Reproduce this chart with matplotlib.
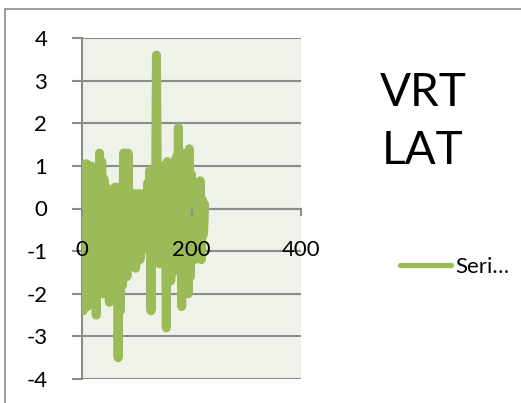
import numpy as np
import matplotlib
matplotlib.use("Agg")
import matplotlib.pyplot as plt
from matplotlib.patches import Rectangle

# VRT LAT series, sampled every 2 units along x
vrt_lat = [
    1.05, -2.4, 0.8, -1.9, 1.05, -2.3, 0.5, -1.2,
    1.0, -0.8, 0.2, -1.5, 0.6, -2.5, 0.3, -1.8,
    1.3, -0.5, 1.1, -2.0, 0.7, -1.0, 0.5, -1.6,
    0.3, -2.2, -0.4, -1.9, 0.2, -1.3, 0.5, -2.0,
    0.5, -3.5, 0.3, -2.4, -0.2, -1.8, 1.3, -0.6,
    1.3, -1.6, 1.3, -1.0, 0.3, -0.9, 0.1, -0.7,
    0.35, -1.4, 0.3, -0.5, 0.35, -1.2, 0.3, -0.6,
    0.35, -0.9, 0.3, -0.4, 0.6, -1.0, 0.9, -2.4,
    0.5, -1.0, 0.8, -0.6, 3.6, -0.5, 0.8, -1.3,
    0.3, -0.9, 1.0, -1.2, 0.5, -2.8, 1.1, -1.0,
    0.8, -1.7, 0.3, -1.5, 1.0, -0.7, 1.2, -1.2,
    1.9, -1.2, 1.2, -2.3, 1.3, -1.5, 0.6, -1.9,
    0.8, -2.0, 1.4, -1.6, 0.8, -1.0, 0.6, -1.2,
    0.4, -1.1, 0.6, -0.8, 0.65, -1.2, 0.2, -0.6, 0.1,
]
x_vals = np.arange(len(vrt_lat)) * 2
x_ticks = [0, 200, 400]
y_ticks = [-4, -3, -2, -1, 0, 1, 2, 3, 4]

plt.rcParams['font.family'] = ['Lato', 'DejaVu Sans']
plt.rcParams['axes.unicode_minus'] = False

fig = plt.figure(figsize=(5.21, 4.03), dpi=100)
fig.patches.append(Rectangle((5 / 521, -0.1), 1.2, 1 - 9 / 403 + 0.1,
                             transform=fig.transFigure, fill=False,
                             edgecolor='#8c8c8c', linewidth=1.2))

ax = fig.add_axes([82 / 521, 1 - 379 / 403, 219 / 521, 341 / 403])
ax.set_facecolor('#eff2e9')
ax.plot(x_vals, vrt_lat, color='#9bbb59', linewidth=6.5,
        solid_capstyle='round', solid_joinstyle='round', label='Seri…', zorder=3)

ax.set_xlim(0, 400)
ax.set_ylim(-4, 4)
ax.set_yticks(y_ticks)
ax.set_xticks(x_ticks)
ax.yaxis.grid(True, color='#8c8c8c', linewidth=1.5)
ax.set_axisbelow(True)

for s in ['top', 'right']:
    ax.spines[s].set_visible(False)
ax.spines['left'].set_color('#8c8c8c')
ax.spines['left'].set_linewidth(1.5)
ax.spines['bottom'].set_position(('data', 0))
ax.spines['bottom'].set_color('#8c8c8c')
ax.spines['bottom'].set_linewidth(1.5)
ax.spines['bottom'].set_zorder(1)

ax.tick_params(axis='y', length=7, width=1.5, color='#8c8c8c', pad=18, labelsize=16)
ax.tick_params(axis='x', length=5, width=1.5, color='#8c8c8c', pad=18, labelsize=16)
# x tick labels sit on top of the line, like in Excel
ax.xaxis.set_zorder(5)

fig.text(423 / 521, 1 - 122 / 403, 'VRT\nLAT', fontsize=33, ha='center',
         va='center', linespacing=1.45)
leg = fig.legend(loc='center left', bbox_to_anchor=(380 / 521, 1 - 267 / 403),
                 frameon=False, fontsize=16, handlelength=2.3, handletextpad=0.2)
for ln in leg.get_lines():
    ln.set_linewidth(3.8)
    ln.set_solid_capstyle('round')

fig.savefig('out.png', dpi=100)
